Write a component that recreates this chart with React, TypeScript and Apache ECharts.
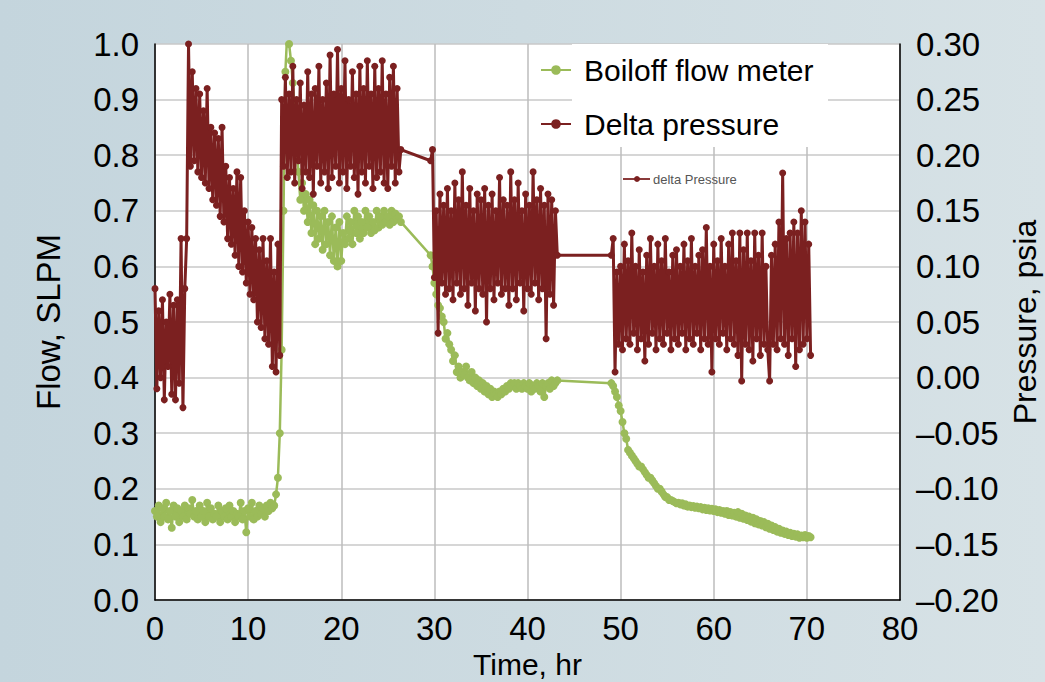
import React, { useEffect, useRef } from "react";
import * as echarts from "echarts";

// ---- Data (time in hr, sampled every 0.2 hr) ----
const SAMPLE_STEP = 0.2;

// Delta pressure (psia), right axis
const pressureSegStarts = [0, 3.6, 13.6, 29.6, 49.0];
const pressureSeg1 = [0.08, -0.01, 0.06, 0.0, 0.07, -0.02, 0.05, 0.01, 0.075, -0.015, 0.065, -0.02, 0.07, -0.005, 0.125, -0.027, 0.08, 0.125];
const pressureSeg2 = [
  0.3, 0.19, 0.275, 0.195, 0.26, 0.185, 0.255, 0.18, 0.24, 0.175, 0.26, 0.17, 0.225, 0.16, 0.22, 0.155, 0.215, 0.145,
  0.225, 0.14, 0.19, 0.125, 0.18, 0.12, 0.17, 0.11, 0.185, 0.1, 0.18, 0.095, 0.15, 0.085, 0.14, 0.075, 0.135, 0.07,
  0.125, 0.05, 0.115, 0.045, 0.125, 0.035, 0.105, 0.03, 0.125, 0.01, 0.095, 0.005, 0.12, 0.02,
];
const pressureSeg3 = [
  0.25, 0.19, 0.27, 0.18, 0.255, 0.185, 0.28, 0.175, 0.25, 0.195, 0.265, 0.17, 0.245, 0.185, 0.275, 0.18, 0.255, 0.165,
  0.26, 0.19, 0.28, 0.175, 0.25, 0.185, 0.265, 0.17, 0.29, 0.18, 0.255, 0.19, 0.295, 0.175, 0.26, 0.185, 0.285, 0.17,
  0.25, 0.19, 0.275, 0.18, 0.255, 0.165, 0.28, 0.185, 0.26, 0.175, 0.285, 0.19, 0.255, 0.17, 0.28, 0.18, 0.26, 0.185,
  0.285, 0.175, 0.255, 0.17, 0.27, 0.19, 0.28, 0.175, 0.26, 0.185, 0.205,
];
const pressureSeg4 = [
  0.195, 0.205, 0.09, 0.15, 0.04, 0.165, 0.085, 0.155, 0.075, 0.17, 0.08, 0.15, 0.07, 0.175, 0.085, 0.16, 0.075, 0.185,
  0.08, 0.155, 0.065, 0.17, 0.085, 0.15, 0.06, 0.165, 0.08, 0.16, 0.075, 0.17, 0.05, 0.155, 0.08, 0.165, 0.07, 0.15,
  0.085, 0.18, 0.075, 0.16, 0.08, 0.155, 0.065, 0.185, 0.08, 0.16, 0.07, 0.175, 0.085, 0.15, 0.06, 0.165, 0.08, 0.155,
  0.075, 0.185, 0.085, 0.16, 0.07, 0.17, 0.08, 0.155, 0.035, 0.165, 0.075, 0.16, 0.065, 0.15, 0.11,
];
const pressureSeg5 = [
  0.11, 0.125, 0.005, 0.095, 0.03, 0.1, 0.025, 0.12, 0.035, 0.105, 0.03, 0.13, 0.04, 0.1, 0.025, 0.115, 0.035, 0.095,
  0.015, 0.11, 0.03, 0.125, 0.04, 0.1, 0.025, 0.12, 0.035, 0.105, 0.03, 0.125, 0.04, 0.095, 0.025, 0.11, 0.035, 0.115,
  0.03, 0.1, 0.04, 0.12, 0.025, 0.105, 0.035, 0.125, 0.03, 0.1, 0.04, 0.11, 0.025, 0.115, 0.035, 0.135, 0.03, 0.1,
  0.005, 0.12, 0.035, 0.105, 0.03, 0.125, 0.04, 0.1, 0.025, 0.12, 0.035, 0.13, 0.03, 0.105, 0.02, 0.13, -0.003, 0.115,
  0.03, 0.13, 0.025, 0.105, 0.015, 0.13, 0.035, 0.11, 0.02, 0.13, 0.03, 0.1, 0.025, -0.003, 0.11, 0.03, 0.12, 0.025,
  0.14, 0.035, 0.184, 0.03, 0.125, 0.02, 0.13, 0.035, 0.14, 0.01, 0.13, 0.025, 0.15, 0.03, 0.14, 0.035, 0.12, 0.02,
];

// Boiloff flow (SLPM), left axis
const flowSegStarts = [0, 29.6, 49.0];
const flowSegA = [
  0.16, 0.15, 0.17, 0.14, 0.165, 0.15, 0.175, 0.145, 0.16, 0.13, 0.17, 0.15, 0.165, 0.14, 0.16, 0.15, 0.17, 0.145,
  0.165, 0.155, 0.18, 0.15, 0.16, 0.145, 0.17, 0.15, 0.16, 0.14, 0.175, 0.15, 0.165, 0.145, 0.155, 0.15, 0.17, 0.14,
  0.16, 0.15, 0.165, 0.145, 0.17, 0.15, 0.16, 0.14, 0.155, 0.15, 0.175, 0.145, 0.16, 0.122, 0.165, 0.15, 0.175, 0.145,
  0.16, 0.15, 0.17, 0.155, 0.165, 0.15, 0.17, 0.16, 0.175, 0.165,
  0.17, 0.19, 0.22, 0.3, 0.45, 0.7, 0.95,
  1.02, 1.0, 0.97, 0.93, 0.88, 0.82, 0.77, 0.72, 0.75, 0.7, 0.73, 0.68, 0.72, 0.66, 0.71, 0.64, 0.7, 0.65, 0.69, 0.63,
  0.7, 0.64, 0.68, 0.62, 0.69, 0.61, 0.67, 0.6, 0.68, 0.61, 0.66, 0.64, 0.69, 0.65, 0.68, 0.64, 0.7, 0.66, 0.69, 0.65,
  0.68, 0.66, 0.7, 0.67, 0.69, 0.66, 0.68, 0.665, 0.7, 0.67, 0.69, 0.675, 0.7, 0.68, 0.69, 0.675, 0.7, 0.68, 0.695,
  0.685, 0.69, 0.68,
];
const flowSegB = [
  0.62, 0.6, 0.57, 0.55, 0.53, 0.525, 0.51, 0.5, 0.47, 0.48, 0.46, 0.45, 0.43, 0.44, 0.41, 0.42, 0.4, 0.41, 0.405,
  0.42, 0.4, 0.395, 0.41, 0.39, 0.4, 0.385, 0.395, 0.38, 0.39, 0.375, 0.385, 0.37, 0.38, 0.365, 0.375, 0.37, 0.365,
  0.375, 0.37, 0.38, 0.375, 0.385, 0.38, 0.39, 0.385, 0.39, 0.38, 0.39, 0.385, 0.38, 0.39, 0.385, 0.38, 0.39, 0.375,
  0.385, 0.38, 0.39, 0.385, 0.375, 0.39, 0.365, 0.385, 0.39, 0.38, 0.395, 0.385, 0.39, 0.395,
];
const flowSegC = [
  0.39, 0.385, 0.375, 0.365, 0.35, 0.34, 0.32, 0.3, 0.29, 0.27, 0.265, 0.26, 0.255, 0.25, 0.245, 0.24, 0.24, 0.235,
  0.23, 0.225, 0.22, 0.22, 0.215, 0.21, 0.205, 0.2, 0.2, 0.195, 0.19, 0.185, 0.185, 0.18, 0.18, 0.178, 0.176, 0.174,
  0.175, 0.172, 0.174, 0.17, 0.172, 0.168, 0.17, 0.167, 0.169, 0.166, 0.168, 0.165, 0.167, 0.163, 0.166, 0.162, 0.165,
  0.161, 0.164, 0.16, 0.163, 0.158, 0.162, 0.157, 0.16, 0.155, 0.16, 0.153, 0.158, 0.152, 0.157, 0.15, 0.158, 0.148,
  0.155, 0.146, 0.152, 0.144, 0.15, 0.141, 0.148, 0.138, 0.145, 0.136, 0.142, 0.134, 0.14, 0.131, 0.137, 0.128, 0.134,
  0.126, 0.131, 0.123, 0.128, 0.121, 0.125, 0.119, 0.123, 0.117, 0.121, 0.115, 0.119, 0.114, 0.118, 0.112, 0.116, 0.113,
  0.117, 0.112, 0.115, 0.113,
];

const xTicks = [0, 80, 10];
const flowAxis = [0, 1, 0.1];
const pressureAxis = [-0.2, 0.3, 0.05];
const seriesNames = ["Boiloff flow meter", "Delta pressure"];

function buildSeries(starts: number[], segs: number[][]): number[][] {
  const out: number[][] = [];
  segs.forEach((seg, k) => {
    seg.forEach((v, i) => {
      out.push([+(starts[k] + i * SAMPLE_STEP).toFixed(2), v]);
    });
  });
  return out;
}

const FONT = "Liberation Sans, Arial, sans-serif";
const RED = "#7b2020";
const GREEN = "#9bbb59";

export default function App() {
  const ref = useRef<HTMLDivElement>(null);
  useEffect(() => {
    if (!ref.current) return;
    const chart = echarts.init(ref.current, undefined, { renderer: "svg" });
    const flowData = buildSeries(flowSegStarts, [flowSegA, flowSegB, flowSegC]);
    const pressureData = buildSeries(pressureSegStarts, [pressureSeg1, pressureSeg2, pressureSeg3, pressureSeg4, pressureSeg5]);
    chart.setOption({
      animation: false,
      backgroundColor: "transparent",
      textStyle: { fontFamily: FONT },
      grid: {
        left: 155,
        right: 145,
        top: 44,
        bottom: 82,
        show: true,
        backgroundColor: "#ffffff",
        borderWidth: 0,
        containLabel: false,
        outerBoundsMode: "none",
      },
      legend: {
        orient: "vertical",
        left: 540,
        top: 55,
        padding: 0,
        itemWidth: 30,
        itemHeight: 12,
        itemGap: 24,
        z: 10,
        textStyle: { fontSize: 30, color: "#000", fontFamily: FONT, padding: [0, 0, 0, 8] },
        data: seriesNames,
      },
      graphic: [
        { type: "rect", z: 1, shape: { x: 572, y: 44, width: 256, height: 103 }, style: { fill: "#ffffff" } },
        { type: "line", z: 3, shape: { x1: 623, y1: 179, x2: 650, y2: 179 }, style: { stroke: "#8a3a3a", lineWidth: 2 } },
        { type: "circle", z: 3, shape: { cx: 637, cy: 179, r: 3 }, style: { fill: "#7b2020" } },
        {
          type: "text",
          z: 3,
          x: 653,
          y: 179,
          style: { text: "delta Pressure", fontSize: 13, fill: "#555", fontFamily: FONT, verticalAlign: "middle" },
        },
      ],
      xAxis: {
        type: "value",
        min: xTicks[0],
        max: xTicks[1],
        interval: xTicks[2],
        name: "Time, hr",
        nameLocation: "middle",
        nameGap: 44,
        nameTextStyle: { fontSize: 30, color: "#000", fontFamily: FONT },
        axisLine: { show: true, onZero: false, lineStyle: { color: "#000", width: 1.5 } },
        axisTick: { show: false },
        axisLabel: { fontSize: 33, color: "#000", margin: 12, fontFamily: FONT },
        splitLine: { show: true, lineStyle: { color: "#bdbdbd", width: 1.5 } },
      },
      yAxis: [
        {
          type: "value",
          min: flowAxis[0],
          max: flowAxis[1],
          interval: flowAxis[2],
          name: "Flow, SLPM",
          nameLocation: "middle",
          nameGap: 90,
          nameRotate: 90,
          nameTextStyle: { fontSize: 33, color: "#000", fontFamily: FONT },
          axisLine: { show: true, lineStyle: { color: "#000", width: 1.5 } },
          axisTick: { show: false },
          axisLabel: { fontSize: 33, color: "#000", margin: 16, fontFamily: FONT, formatter: (v: number) => v.toFixed(1) },
          splitLine: { show: true, lineStyle: { color: "#c8c8c8", width: 1.5 } },
        },
        {
          type: "value",
          position: "right",
          min: pressureAxis[0],
          max: pressureAxis[1],
          interval: pressureAxis[2],
          name: "Pressure, psia",
          nameLocation: "middle",
          nameGap: 105,
          nameRotate: 90,
          nameTextStyle: { fontSize: 32, color: "#000", fontFamily: FONT },
          axisLine: { show: true, lineStyle: { color: "#000", width: 1.5 } },
          axisTick: { show: false },
          axisLabel: {
            fontSize: 33,
            color: "#000",
            margin: 16,
            fontFamily: FONT,
            formatter: (v: number) => (v < -1e-9 ? "\u2013" + Math.abs(v).toFixed(2) : Math.abs(v).toFixed(2)),
          },
          splitLine: { show: false },
        },
      ],
      series: [
        {
          name: seriesNames[0],
          type: "line",
          yAxisIndex: 0,
          data: flowData,
          symbol: "circle",
          symbolSize: 8,
          z: 2,
          itemStyle: { color: GREEN },
          lineStyle: { color: GREEN, width: 2.5 },
        },
        {
          name: seriesNames[1],
          type: "line",
          yAxisIndex: 1,
          data: pressureData,
          symbol: "circle",
          symbolSize: 7,
          z: 3,
          itemStyle: { color: RED },
          lineStyle: { color: RED, width: 3 },
        },
      ],
    });
    return () => chart.dispose();
  }, []);
  return (
    <div
      style={{
        position: "absolute",
        left: 0,
        top: 0,
        width: 1045,
        height: 682,
        background: "linear-gradient(90deg, #c4d5dd 0%, #cddbe1 50%, #d7e2e6 100%)",
        overflow: "hidden",
      }}
    >
      <div ref={ref} style={{ width: 1045, height: 682 }} />
    </div>
  );
}
